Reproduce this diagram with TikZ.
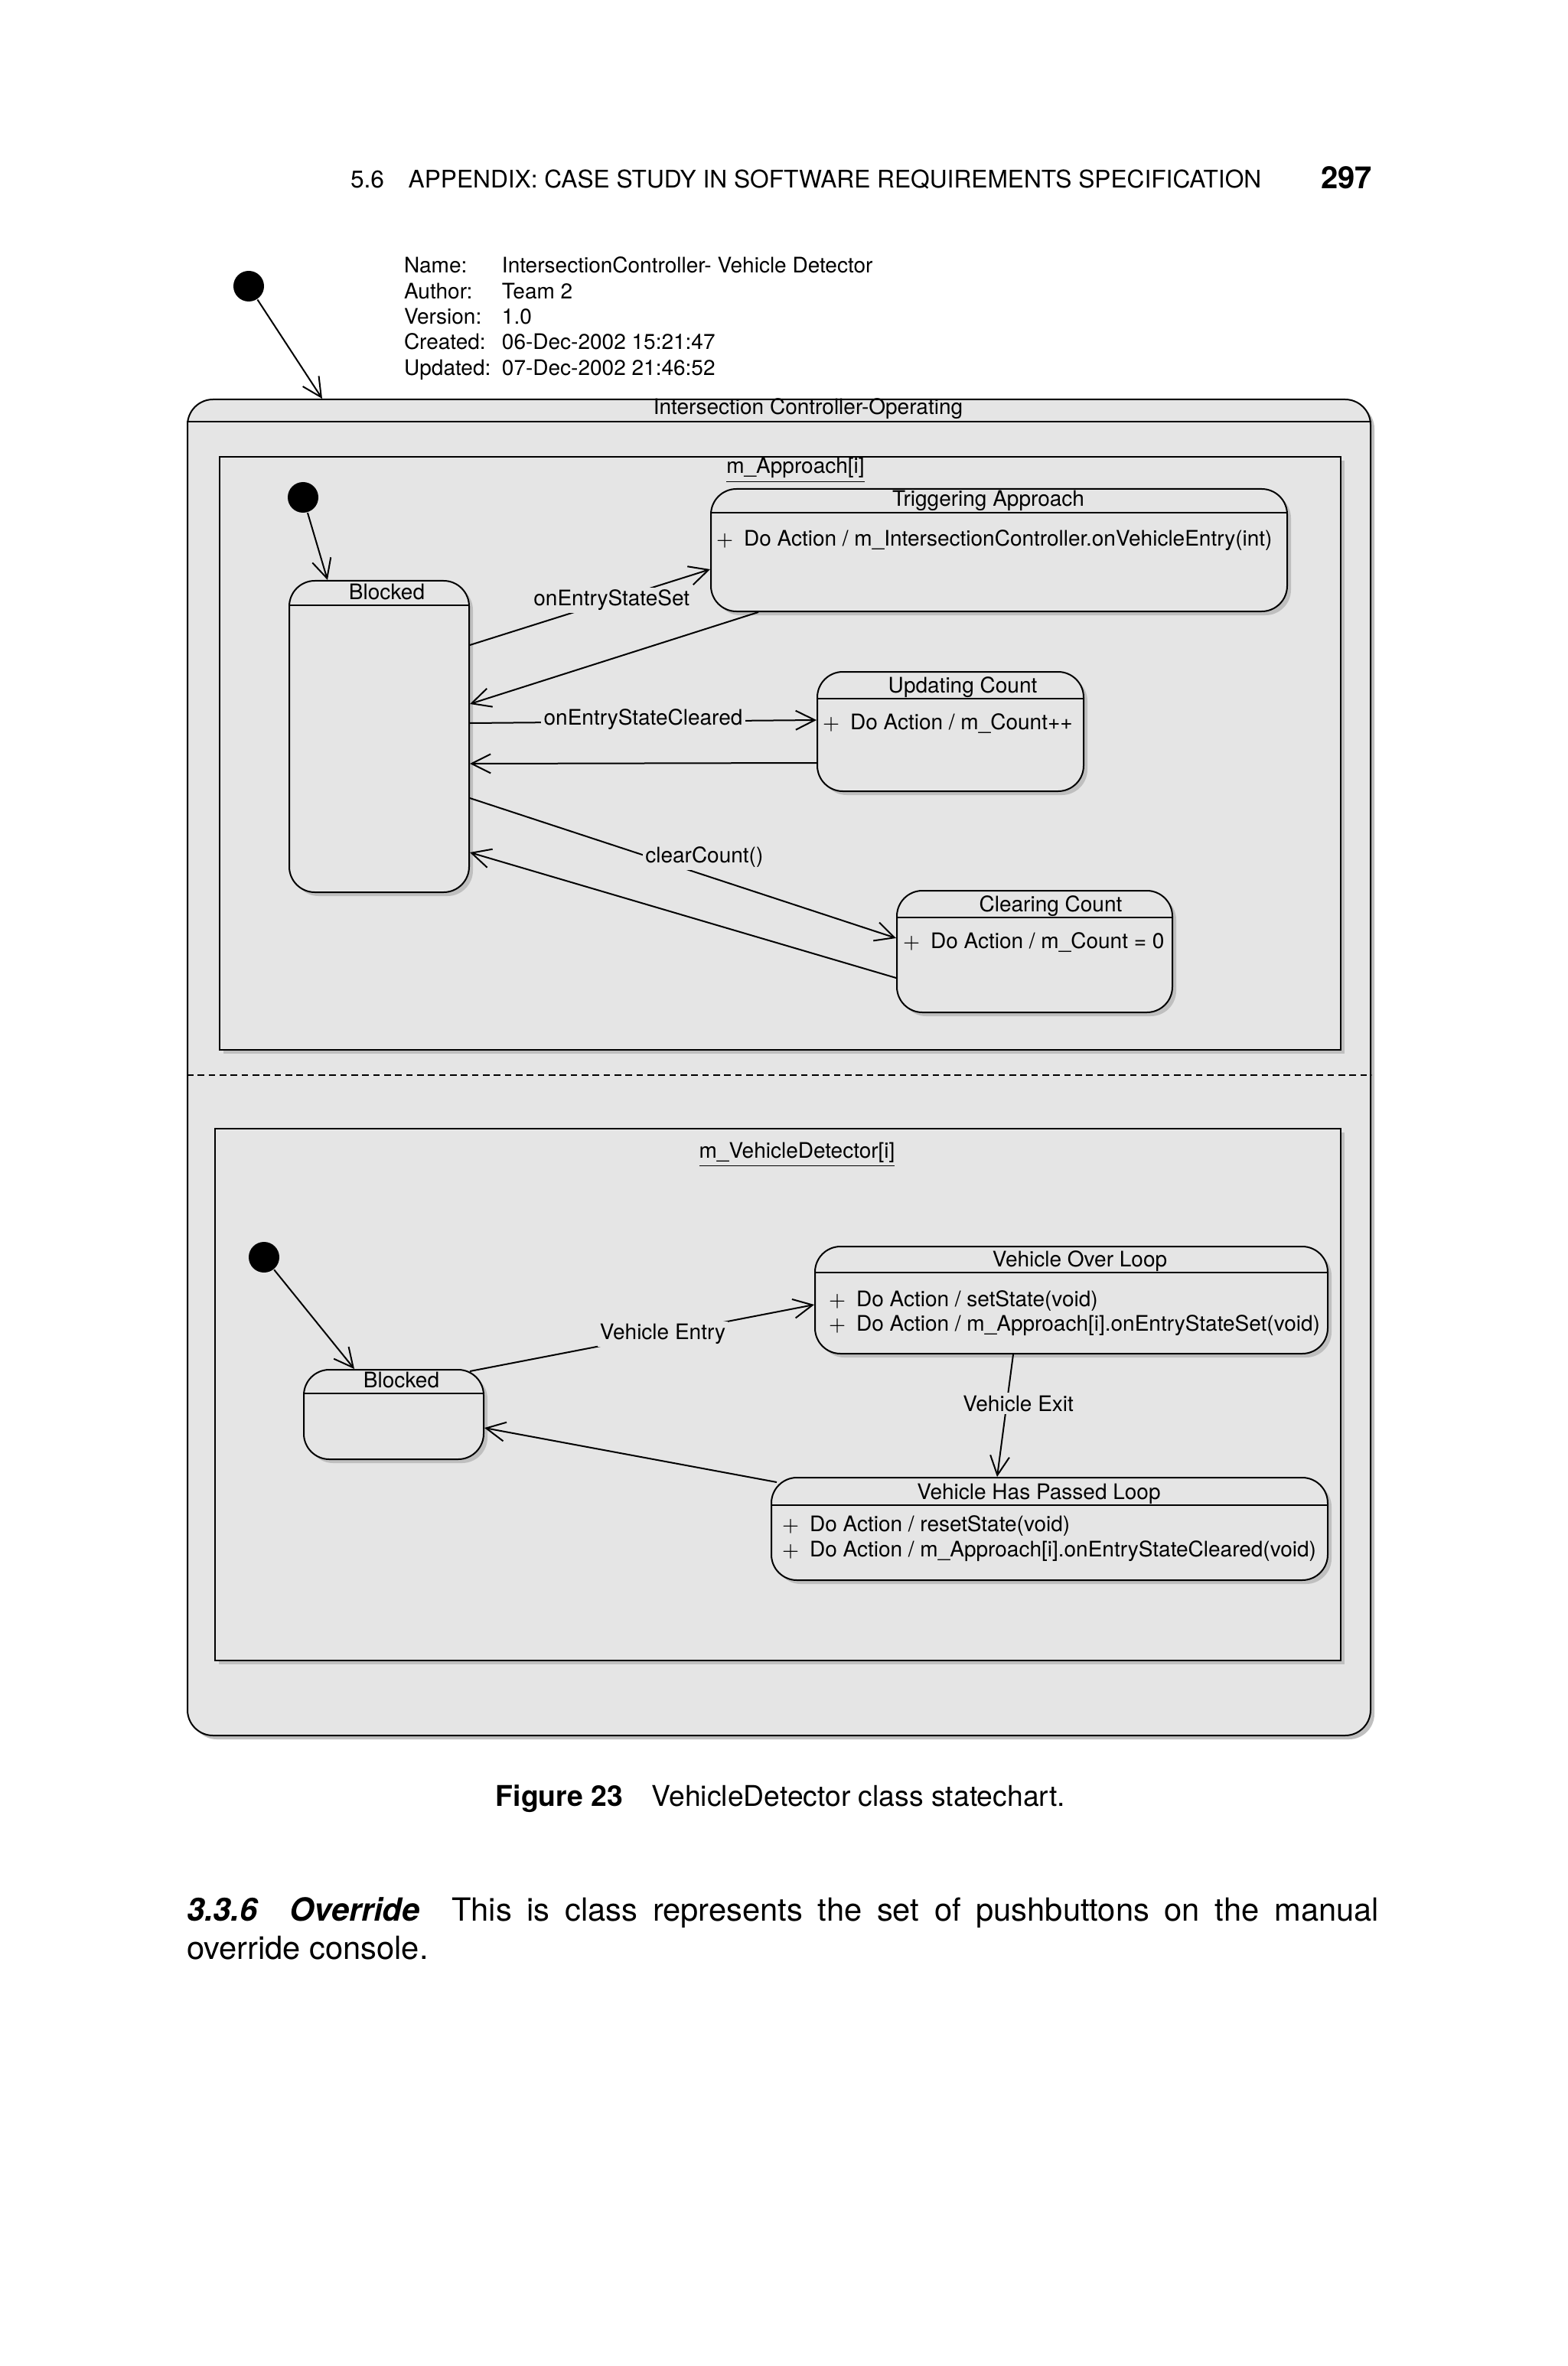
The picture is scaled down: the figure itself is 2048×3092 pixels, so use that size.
\documentclass[tikz,border=0pt]{standalone}
\usepackage{fontspec}
\setmainfont{TeX Gyre Heros}
\usetikzlibrary{arrows.meta, positioning, fit, shadows}
\definecolor{stategray}{RGB}{229,229,229}

\begin{document}
\begin{tikzpicture}[x=0.3pt, y=-0.3pt, ->, >={Straight Barb[length=7.5pt, width=7.5pt]}, line width=0.6pt,
    font=\fontsize{8.4}{10}\selectfont,
    shadowed/.style={drop shadow={shadow xshift=1.5pt, shadow yshift=-1.5pt, fill=black!25, opacity=1}},
    state/.style={draw, -, rounded corners=10pt, fill=stategray, inner sep=0pt, shadowed},
    region/.style={draw, -, fill=stategray, inner sep=0pt, shadowed},
    initdot/.style={circle, fill=black, minimum size=12pt, inner sep=0pt},
    title/.style={anchor=base, inner sep=0pt},
    act/.style={anchor=base west, inner sep=0pt},
    lbl/.style={fill=stategray, inner sep=1pt}]

		\useasboundingbox (0,0) rectangle (2048,3092);
		\fill[white, -] (0,0) rectangle (2048,3092);

		% page head and diagram info
		\node[anchor=base west, inner sep=0pt, font=\fontsize{9.5}{11}\selectfont] (runhead) at (457,246) {5.6\quad APPENDIX: CASE STUDY IN SOFTWARE REQUIREMENTS SPECIFICATION};
		\node[anchor=base east, inner sep=0pt, font=\fontsize{12}{14}\selectfont\bfseries] (pageno) at (1794,247) {297};
		\node[anchor=base west, inner sep=0pt] (info) at (527,357) {\begin{tabular}[t]{@{}p{38.4pt}@{}l@{}}
				Name: & IntersectionController- Vehicle Detector\\
				Author: & Team 2\\
				Version: & 1.0\\
				Created: & 06-Dec-2002 15:21:47\\
				Updated: & 07-Dec-2002 21:46:52
			\end{tabular}};

		% composite state
		\node[state, fit={(245,522) (1791,2268)}] (operating) {};
		\draw[-] ([shift={(0,30)}]operating.north west) -- ([shift={(0,30)}]operating.north east);
		\node[title] at ([shift={(38,21)}]operating.north) {Intersection Controller-Operating};
		\draw[-, line width=0.4pt, dash pattern=on 2.6pt off 1.7pt] ([shift={(0,884)}]operating.north west) -- ([shift={(0,884)}]operating.north east);

		\node[region, fit={(287,597) (1752,1372)}] (approach) {};
		\node[title] at ([shift={(20,23)}]approach.north) {\underline{m\_Approach[i]}};
		\node[region, fit={(281,1475) (1752,2170)}] (detector) {};
		\node[title] at ([shift={(25,39)}]detector.north) {\underline{m\_VehicleDetector[i]}};

		% states
		\node[state, fit={(378,759) (613,1166)}] (blocked) {};
		\node[state, fit={(929,639) (1682,799)}] (triggering) {};
		\node[state, fit={(1068,878) (1416,1034)}] (updating) {};
		\node[state, fit={(1172,1164) (1532,1323)}] (clearing) {};
		\node[state, fit={(397,1790) (632,1907)}] (blockedvd) {};
		\node[state, fit={(1065,1629) (1735,1769)}] (overloop) {};
		\node[state, fit={(1008,1931) (1735,2065)}] (passedloop) {};

		\foreach \s/\h/\dx/\t in {blocked/33/10/Blocked, triggering/32/-14/Triggering Approach,
				updating/36/16/Updating Count, clearing/36/21/Clearing Count, blockedvd/32/10/Blocked,
				overloop/35/11/Vehicle Over Loop, passedloop/37/-14/Vehicle Has Passed Loop}
		{
			\draw[-] ([shift={(0,\h)}]\s.north west) -- ([shift={(0,\h)}]\s.north east);
			\node[title] at ([shift={(\dx,\h-8)}]\s.north) {\t};
		}

		\node[act] at ([shift={(7,76)}]triggering.north west) {$+$\enspace Do Action / m\_IntersectionController.onVehicleEntry(int)};
		\node[act] at ([shift={(7,76)}]updating.north west) {$+$\enspace Do Action / m\_Count++};
		\node[act] at ([shift={(8,76)}]clearing.north west) {$+$\enspace Do Action / m\_Count = 0};
		\node[act] at ([shift={(18,79)}]overloop.north west) {$+$\enspace Do Action / setState(void)};
		\node[act] at ([shift={(18,111)}]overloop.north west) {$+$\enspace Do Action / m\_Approach[i].onEntryStateSet(void)};
		\node[act] at ([shift={(14,71)}]passedloop.north west) {$+$\enspace Do Action / resetState(void)};
		\node[act] at ([shift={(14,104)}]passedloop.north west) {$+$\enspace Do Action / m\_Approach[i].onEntryStateCleared(void)};

		% initial states
		\node[initdot] (start) at (325,374) {};
		\node[initdot] (startap) at (396,650) {};
		\node[initdot] (startvd) at (345,1643) {};

		% transitions
		\path
		(start) edge ([shift={(177,0)}]operating.north west)
		(startap) edge ([shift={(51,0)}]blocked.north west)
		(startvd) edge ([shift={(67,0)}]blockedvd.north west);

		\path
		([shift={(0,85)}]blocked.north east) edge node[lbl, pos=0.59] {onEntryStateSet} ([shift={(0,106)}]triggering.north west)
		([shift={(63,0)}]triggering.south west) edge ([shift={(0,162)}]blocked.north east)
		([shift={(0,187)}]blocked.north east) edge node[lbl, pos=0.5, yshift=1pt] {onEntryStateCleared} ([shift={(0,64)}]updating.north west)
		([shift={(0,120)}]updating.north west) edge ([shift={(0,240)}]blocked.north east)
		([shift={(0,285)}]blocked.north east) edge node[lbl, pos=0.55, yshift=7pt] {clearCount()} ([shift={(0,63)}]clearing.north west)
		([shift={(0,115)}]clearing.north west) edge ([shift={(0,356)}]blocked.north east);

		\path
		([shift={(-19,3)}]blockedvd.north east) edge node[lbl, pos=0.56] {Vehicle Entry} ([shift={(0,77)}]overloop.north west)
		([shift={(260,0)}]overloop.south west) edge node[lbl, pos=0.4, xshift=4.5pt] {Vehicle Exit} ([shift={(296,0)}]passedloop.north west)
		([shift={(8,7)}]passedloop.north west) edge ([shift={(0,77)}]blockedvd.north east);

		% caption and text below
		\node[anchor=base, inner sep=0pt, font=\fontsize{11.2}{13}\selectfont] (caption) at (1020,2360) {\textbf{Figure 23}\quad VehicleDetector class statechart.};
		\node[anchor=base west, inner sep=0pt, text width=467.4pt, align=justify, font=\fontsize{12.5}{15}\selectfont] (para) at (243,2510)
			{\textbf{\textit{3.3.6\quad Override}}\quad This is class represents the set of pushbuttons on the manual\linebreak override console.};

\end{tikzpicture}
\end{document}
